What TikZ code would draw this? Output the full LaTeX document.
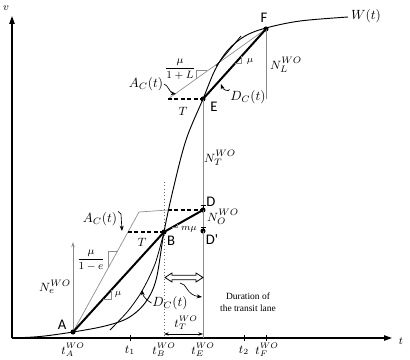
\documentclass[tikz,border=0pt]{standalone}
\usepackage{fontspec}
\newfontfamily\capfont{Carlito}
\newfontfamily\serfont{Liberation Serif}
\usetikzlibrary{arrows.meta}
\begin{document}
\begin{tikzpicture}[x=0.75pt,y=-0.75pt,
 dot/.style={circle,fill=black,inner sep=0pt,minimum size=3.8pt},
 ptlbl/.style={font=\fontsize{11}{13}\selectfont\capfont,inner sep=0.5pt},
 mlbl/.style={font=\fontsize{10}{12}\selectfont,inner sep=0.5pt},
 nlbl/.style={font=\fontsize{9.5}{11}\selectfont,inner sep=0.5pt},
 tlbl/.style={font=\fontsize{8.6}{10}\selectfont,inner sep=0pt},
 slbl/.style={font=\fontsize{7.5}{9}\selectfont,inner sep=0.5pt},
 frlbl/.style={font=\fontsize{8.5}{10}\selectfont,inner sep=0.5pt},
 txlbl/.style={font=\fontsize{7.1}{9}\selectfont\serfont,align=center,inner sep=0.5pt},
 thk/.style={line width=1.5pt},
 thn/.style={line width=0.6pt},
 gry/.style={draw=black!45,line width=0.5pt},
 dsh/.style={dash pattern=on 3pt off 1.8pt,line width=0.9pt},
 axisl/.style={line width=1.1pt,-{Triangle[length=6pt,width=4pt]}},
 call/.style={line width=0.5pt,-{Stealth[length=4pt,width=3pt]}},
 slope/.style={draw=black!45,line width=0.45pt}]
\useasboundingbox (0,0) rectangle (410,360);
% axes
\coordinate (O) at (12,338);
\coordinate (Xend) at (392,338);
\coordinate (Yend) at (12,16);
\draw[axisl] (O) -- (Xend);
\draw[axisl] (O) -- (Yend);
\node[font=\fontsize{8}{9}\selectfont] (lv) at (6,8) {$v$};
\node[font=\fontsize{8}{9}\selectfont] (lt) at (401,341) {$t$};
% points
\node[dot] (A) at (73,332) {};
\node[dot] (B) at (164,232) {};
\node[dot] (D) at (203,210) {};
\node[dot] (Dp) at (203,231) {};
\node[dot] (E) at (203,99) {};
\node[dot] (F) at (266,29) {};
\coordinate (Bs) at (128,232);
\coordinate (Ak) at (139,212);
\coordinate (Ds) at (168,210);
\coordinate (Es) at (168,99);
\coordinate (Eb) at (203,338);
\coordinate (Fb) at (266,99);
\coordinate (Bt) at (164,182);
\coordinate (Bb) at (164,338);
\coordinate (Atop) at (73,242);
% gray lines
\draw[gry] (A.center) -- (Ak) -- (Ds);
\draw[gry] (Es) -- (F.center);
\draw[gry] (E.center) -- (Eb);
\draw[gry] (F.center) -- (Fb);
\draw[gry,-{Stealth[length=4pt,width=2.6pt]}] (A.center) -- (Atop);
\draw[black!60,line width=0.5pt,dotted] (Bt) -- (Bb);
% ticks
\foreach \x in {130,244,266} \draw[thn] (\x,335) -- (\x,341);
% W curve
\draw[line width=0.7pt] plot[smooth,tension=0.55] coordinates {(12,338) (40,336.5) (73,332) (105,326) (128,318) (145,303) (156,280) (164,232) (173,190) (186,140) (203,99) (215,70) (228,50) (245,36) (266,28) (300,21) (348,17)};
% second curve and tangent pieces
\draw[thn] plot[smooth,tension=0.5] coordinates {(110,330) (128,311) (142,291) (155,264) (164,232)};
\draw[thn] (216,66) -- (241,36);
% dashed
\draw[dsh] (Bs) -- (B.center);
\draw[dsh] (Ds) -- (D.center);
\draw[dsh] (Es) -- (E.center);
% thick
\draw[thk] (A.center) -- (B.center) -- (D.center);
\draw[thk] (E.center) -- (F.center);
% N_O bars
\draw[thn] (200.5,205) -- (205.5,205) (203,205) -- (D.center);
\draw[thn] (200.5,227) -- (205.5,227) (203,227) -- (Dp.center);
% slope triangles
\draw[slope] (108,268) -- (108,251) -- (117.5,251);
\draw[slope] (103,299) -- (111.2,299) -- (111.2,290);
\draw[slope] (171.8,227.6) -- (177.65,227.6) -- (177.65,224.3);
\draw[slope] (196,78.7) -- (196,70.8) -- (207,70.8);
\draw[slope] (234.5,63) -- (240.8,63) -- (240.8,56);
% point labels
\node[ptlbl] (lA) at (62,325) {A};
\node[ptlbl] (lB) at (171,241) {B};
\node[ptlbl] (lD) at (211,202) {D};
\node[ptlbl] (lDp) at (212,240) {D'};
\node[ptlbl] (lE) at (214,107) {E};
\node[ptlbl] (lF) at (264,18) {F};
% N labels
\node[nlbl] (NL) at (286,65) {$N_L^{WO}$};
\node[nlbl] (NT) at (220,158) {$N_T^{WO}$};
\node[nlbl] (NO) at (223,217) {$N_O^{WO}$};
\node[nlbl] (Ne) at (55,287) {$N_e^{WO}$};
% math labels
\node[mlbl] (W) at (366,16) {$W(t)$};
\node[mlbl] (ACl) at (100,219) {$A_C(t)$};
\node[mlbl] (ACu) at (146,84) {$A_C(t)$};
\node[mlbl] (DCl) at (170,303) {$D_C(t)$};
\node[mlbl] (DCu) at (248,97) {$D_C(t)$};
\node[tlbl] (Tl) at (142,242) {$T$};
\node[tlbl] (Tu) at (183,111) {$T$};
\node[frlbl] (fe) at (91,260) {$\displaystyle\frac{\mu}{1-e}$};
\node[frlbl] (fL) at (180,69) {$\displaystyle\frac{\mu}{1+L}$};
\node[slbl] (mmu) at (189,229) {$m\mu$};
\node[slbl] (mul) at (118,294) {$\mu$};
\node[slbl] (muu) at (250,61) {$\mu$};
% time labels
\node[tlbl] (tA) at (73,350) {$t_A^{WO}$};
\node[tlbl] (t1) at (130,350) {$t_1$};
\node[tlbl] (tB) at (164,350) {$t_B^{WO}$};
\node[tlbl] (tE) at (203,350) {$t_E^{WO}$};
\node[tlbl] (t2) at (244,350) {$t_2$};
\node[tlbl] (tF) at (267,350) {$t_F^{WO}$};
\node[tlbl] (tT) at (186,323) {$t_T^{WO}$};
\coordinate (dL) at (164,334);
\coordinate (dR) at (203,334);
\draw[line width=0.5pt,{Stealth[length=3.5pt,width=2.5pt]}-{Stealth[length=3.5pt,width=2.5pt]}] (dL) -- (dR);
% double arrow
\draw[line width=0.6pt,fill=white] (165,277.5) -- (172,273) -- (172,275.3) -- (196,275.3) -- (196,273) -- (203,277.5) -- (196,282) -- (196,279.7) -- (172,279.7) -- (172,282) -- cycle;
\node[txlbl] (dur) at (248,302) {Duration of\\the transit lane};
% callouts
\coordinate (cS) at (180,283);
\coordinate (cT) at (202,297);
\draw[call] (cS) .. controls (187,283) and (186,295) .. (cT);
\coordinate (dclT) at (142,290);
\draw[call] (DCl.west) .. controls (148,301) and (143,297) .. (dclT);
\coordinate (dcuT) at (221,84);
\draw[call] (DCu.north west) .. controls (229,92) and (223,90) .. (dcuT);
\coordinate (aclT) at (122,231);
\draw[call] (ACl.north east) -- (121,214) -- (aclT);
\coordinate (acuT) at (176,94);
\draw[call] (ACu.east) .. controls (168,85) and (170,93) .. (acuT);
\end{tikzpicture}
\end{document}
